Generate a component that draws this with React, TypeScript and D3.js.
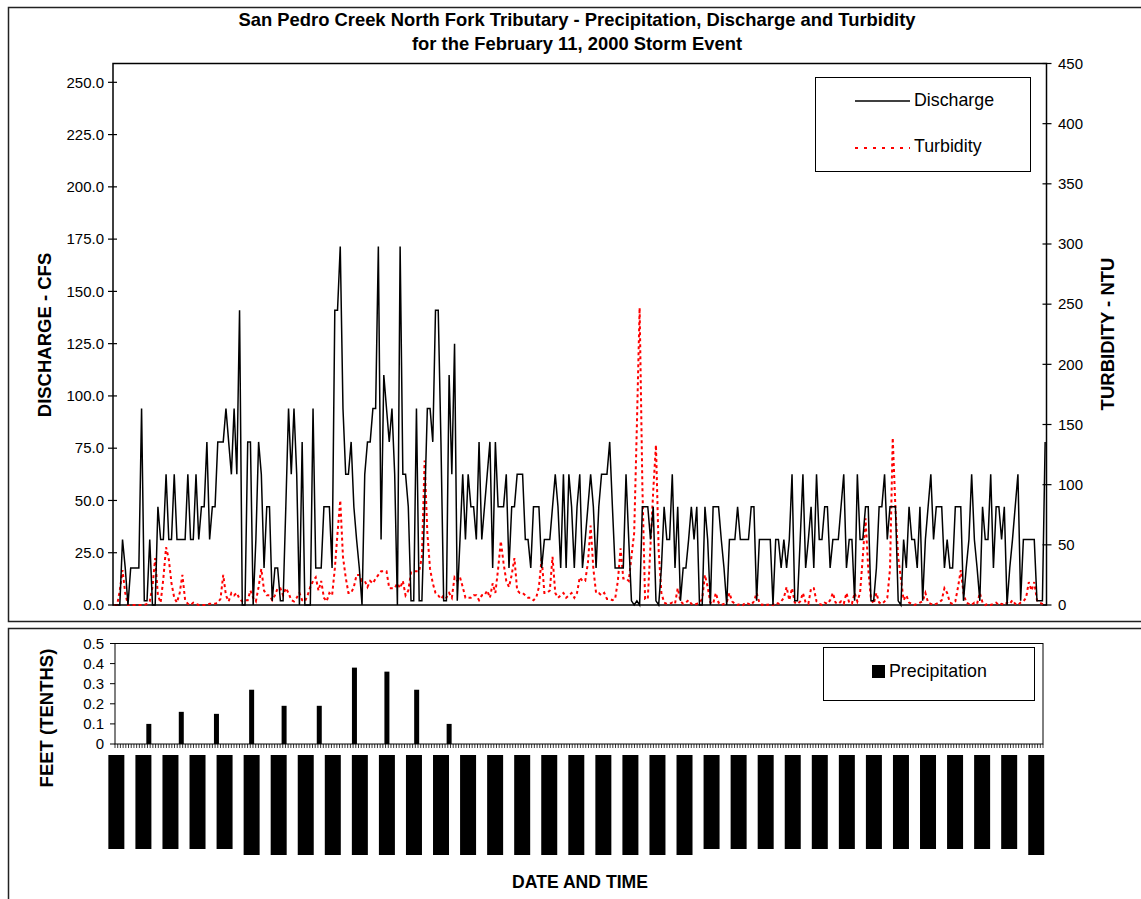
import React from "react";
import * as d3 from "d3";

// ---------------- DATA ----------------
// Discharge rating levels (cfs) used by the gauge readings
const dischargeRating = [0, 2, 17.7, 31.3, 47, 62.5, 78, 94, 110, 125, 141, 156, 171.5];
// Discharge readings as rating-level codes, one per 5-minute sample
const dischargeStage = [
  0,0,0,3,2,0,2,2,2,2,
  7,1,1,3,0,0,4,3,3,5,
  3,3,5,3,3,3,3,5,3,3,
  5,3,4,4,6,3,4,4,6,6,
  6,7,6,5,7,5,10,0,0,6,
  6,0,3,6,5,2,4,4,1,2,
  2,1,1,4,7,5,7,5,0,6,
  0,0,0,7,2,2,2,4,4,4,
  2,10,10,12,7,5,5,6,4,3,
  2,0,5,6,6,7,7,12,3,8,
  7,6,7,5,0,12,5,5,4,1,
  1,7,1,1,4,7,7,6,10,10,
  6,1,1,8,5,9,1,3,5,3,
  5,4,4,3,6,3,4,5,6,2,
  6,4,4,4,5,2,4,4,5,5,
  5,3,3,2,4,4,4,2,3,3,
  3,4,5,4,2,5,2,5,4,2,
  4,5,2,3,4,5,4,2,4,5,
  5,5,6,4,2,2,2,2,5,3,
  1,0,1,0,4,4,4,3,4,1,
  0,2,4,3,3,5,2,4,1,2,
  2,3,4,3,4,0,0,4,3,0,
  4,4,4,3,2,0,3,3,3,4,
  3,3,3,3,4,4,1,3,3,3,
  3,3,0,3,3,2,3,2,3,5,
  1,1,3,5,2,3,4,2,5,3,
  3,4,4,2,3,3,3,4,5,2,
  3,3,1,5,3,3,4,4,1,1,
  2,4,4,5,3,4,4,4,1,0,
  3,2,4,3,3,2,4,1,3,4,
  5,3,4,4,4,2,3,2,2,4,
  4,4,1,2,3,5,3,2,1,4,
  3,3,5,2,4,4,3,4,0,2,
  3,4,5,1,3,3,3,3,3,1,
  1,1,6,
];
// Turbidity (NTU), one per sample
const turbidity = [
  0,0,12,29,10,0,0,0,0,0,
  0,0,1,3,15,39,8,2,22,48,
  38,18,6,2,10,25,4,1,0,2,
  1,0,0,0,0,1,1,1,2,5,
  25,8,3,10,8,10,5,3,4,4,
  12,6,3,15,30,12,8,8,4,8,
  14,14,8,14,10,4,3,6,10,4,
  3,8,15,20,23,12,20,6,3,10,
  8,30,60,87,40,23,10,10,15,25,
  25,20,20,15,20,18,22,25,28,28,
  28,14,14,14,18,14,20,8,12,27,
  28,28,28,40,120,60,30,18,10,8,
  5,8,6,10,6,23,20,23,15,6,
  6,6,8,8,4,8,8,12,6,18,
  10,30,53,35,20,15,25,39,12,10,
  10,8,6,6,4,6,15,39,10,10,
  12,40,10,6,8,10,6,8,10,6,
  10,23,20,20,35,66,30,10,10,8,
  10,5,5,4,5,20,47,22,22,20,
  40,60,150,247,100,5,5,50,95,133,
  45,10,2,1,1,2,1,14,3,1,
  2,4,1,0,1,2,5,25,15,2,
  1,10,2,0,1,2,10,3,1,0,
  1,0,2,1,0,3,10,2,0,1,
  0,1,0,2,1,3,6,15,4,14,
  2,1,3,10,2,1,14,14,3,1,
  0,2,1,4,10,2,1,3,1,10,
  2,1,10,3,10,40,72,30,5,1,
  10,2,1,3,6,30,139,80,40,22,
  4,8,2,1,0,1,2,3,10,2,
  1,0,1,2,4,14,10,2,1,3,
  15,29,10,2,1,0,2,1,10,2,
  0,1,0,1,2,0,1,0,2,1,
  4,1,0,2,3,6,19,12,19,4,
  2,1,0,
];
// Precipitation: sample index where each hourly total falls, and its value
const precipSample = [12, 24, 37, 50, 62, 75, 88, 100, 111, 123];
const precipValue = [0.1, 0.16, 0.15, 0.27, 0.19, 0.19, 0.38, 0.36, 0.27, 0.1];

const dischargeTicks = [0, 25, 50, 75, 100, 125, 150, 175, 200, 225, 250];
const turbidityTicks = [0, 50, 100, 150, 200, 250, 300, 350, 400, 450];
const precipTicks = [0, 0.1, 0.2, 0.3, 0.4, 0.5];

// Category labels (every 10th sample)
const timeLabels = [
  "2/11/00 6:00", "2/11/00 6:50", "2/11/00 7:40", "2/11/00 8:30", "2/11/00 9:20",
  "2/11/00 10:10", "2/11/00 11:00", "2/11/00 11:50", "2/11/00 12:40", "2/11/00 13:30",
  "2/11/00 14:20", "2/11/00 15:10", "2/11/00 16:00", "2/11/00 16:50", "2/11/00 17:40",
  "2/11/00 18:30", "2/11/00 19:20", "2/11/00 20:10", "2/11/00 21:00", "2/11/00 21:50",
  "2/11/00 22:40", "2/11/00 23:30", "2/12/00 0:20", "2/12/00 1:10", "2/12/00 2:00",
  "2/12/00 2:50", "2/12/00 3:40", "2/12/00 4:30", "2/12/00 5:20", "2/12/00 6:10",
  "2/12/00 7:00", "2/12/00 7:50", "2/12/00 8:40", "2/12/00 9:30", "2/12/00 10:20",
];
const labelEvery = 10;

// ---------------- CHART ----------------
const W = 1141;
const H = 899;
const FONT = "Arial, 'Liberation Sans', Helvetica, sans-serif";

export default function App() {
  const discharge = dischargeStage.map((s) => dischargeRating[s]);
  const N = discharge.length;
  const idx = d3.range(N);

  const top = { left: 113, right: 1046.5, top: 63.5, bottom: 605 };
  const bot = { left: 115, right: 1043, top: 643.5, bottom: 744 };

  const xTop = d3.scaleBand<number>().domain(idx).range([top.left, top.right]);
  const xBot = d3.scaleBand<number>().domain(idx).range([bot.left, bot.right]);
  const cTop = (i: number) => (xTop(i) as number) + xTop.bandwidth() / 2;
  const cBot = (i: number) => (xBot(i) as number) + xBot.bandwidth() / 2;

  const yL = d3.scaleLinear().domain([0, 259]).range([top.bottom, top.top]);
  const yR = d3.scaleLinear().domain([0, 450]).range([top.bottom, top.top]);
  const yP = d3.scaleLinear().domain([0, 0.5]).range([bot.bottom, bot.top]);

  const dLine = d3.line<number>().x((_, i) => cTop(i)).y((v) => yL(v))(discharge) || "";
  const tLine = d3.line<number>().x((_, i) => cTop(i)).y((v) => yR(v))(turbidity) || "";

  const f1 = d3.format(".1f");
  const lenScale = d3.scaleLinear().domain([12, 13]).range([94, 100]);

  const boundaries = d3.range(N + 1).map((i) => (i < N ? (xBot(i) as number) : bot.right));

  return (
    <svg width={W} height={H} style={{ position: "absolute", left: 0, top: 0, background: "#fff" }} fontFamily={FONT}>
      <rect x={0} y={0} width={W} height={H} fill="#fff" />
      {/* panel frames */}
      <rect x={8.5} y={7.5} width={1150} height={614} fill="none" stroke="#222" strokeWidth={1.5} />
      <rect x={8.5} y={628.5} width={1150} height={300} fill="none" stroke="#222" strokeWidth={1.5} />

      {/* title */}
      <text x={577} y={26} textAnchor="middle" fontSize={18.4} fontWeight="bold">
        San Pedro Creek North Fork Tributary - Precipitation, Discharge and Turbidity
      </text>
      <text x={577} y={50} textAnchor="middle" fontSize={18.4} fontWeight="bold">
        for the February 11, 2000 Storm Event
      </text>

      {/* top plot area */}
      <rect x={top.left} y={top.top} width={top.right - top.left} height={top.bottom - top.top} fill="none" stroke="#000" strokeWidth={1.5} />

      {/* left axis ticks */}
      {dischargeTicks.map((t) => (
        <g key={"l" + t}>
          <line x1={top.left - 5} x2={top.left + 4} y1={yL(t)} y2={yL(t)} stroke="#000" strokeWidth={1.2} />
          <text x={104} y={yL(t)} dy="0.35em" textAnchor="end" fontSize={15}>
            {f1(t)}
          </text>
        </g>
      ))}
      {/* right axis ticks */}
      {turbidityTicks.map((t) => (
        <g key={"r" + t}>
          <line x1={top.right - 4} x2={top.right + 5} y1={yR(t)} y2={yR(t)} stroke="#000" strokeWidth={1.2} />
          <text x={1058} y={yR(t)} dy="0.35em" textAnchor="start" fontSize={15}>
            {t}
          </text>
        </g>
      ))}

      {/* series */}
      <path d={tLine} fill="none" stroke="#ff0000" strokeWidth={2} strokeDasharray="3 3" />
      <path d={dLine} fill="none" stroke="#000" strokeWidth={1.5} strokeLinejoin="miter" />

      {/* axis titles */}
      <text transform={`translate(45,335) rotate(-90)`} dy="0.35em" textAnchor="middle" fontSize={18.5} fontWeight="bold">
        DISCHARGE - CFS
      </text>
      <text transform={`translate(1108,334) rotate(-90)`} dy="0.35em" textAnchor="middle" fontSize={18.5} fontWeight="bold">
        TURBIDITY - NTU
      </text>

      {/* top legend */}
      <rect x={815.5} y={77.5} width={215} height={94} fill="#fff" stroke="#000" strokeWidth={1} />
      <line x1={855} x2={910} y1={101} y2={101} stroke="#000" strokeWidth={1.5} />
      <text x={914} y={106} fontSize={17.8}>Discharge</text>
      <line x1={855} x2={910} y1={148} y2={148} stroke="#ff0000" strokeWidth={2} strokeDasharray="3 6" />
      <text x={914} y={152} fontSize={17.8}>Turbidity</text>

      {/* bottom plot */}
      <rect x={bot.left} y={bot.top} width={bot.right - bot.left} height={bot.bottom - bot.top} fill="none" stroke="#000" strokeWidth={1} />
      {precipTicks.map((t) => (
        <g key={"p" + t}>
          <line x1={bot.left - 5} x2={bot.left} y1={yP(t)} y2={yP(t)} stroke="#000" strokeWidth={1} />
          <text x={104} y={yP(t)} dy="0.35em" textAnchor="end" fontSize={15}>
            {t === 0 ? "0" : f1(t)}
          </text>
        </g>
      ))}
      {boundaries.map((bx, i) => (
        <line key={"tb" + i} x1={bx} x2={bx} y1={bot.bottom} y2={bot.bottom + 4} stroke="#000" strokeWidth={0.8} />
      ))}
      {precipSample.map((s, k) => (
        <rect key={"pb" + k} x={cBot(s) - 2.5} y={yP(precipValue[k])} width={5} height={yP(0) - yP(precipValue[k])} fill="#000" />
      ))}
      {/* category labels (rendered as solid blocks, as in the original) */}
      {timeLabels.map((lab, k) => (
        <rect key={"lb" + k} x={cBot(k * labelEvery) - 8} y={755} width={16} height={lenScale(lab.length)} fill="#000">
          <title>{lab}</title>
        </rect>
      ))}
      <text transform={`translate(47,718) rotate(-90)`} dy="0.35em" textAnchor="middle" fontSize={18.5} fontWeight="bold">
        FEET (TENTHS)
      </text>
      <text x={580} y={888} textAnchor="middle" fontSize={17.6} fontWeight="bold">
        DATE AND TIME
      </text>

      {/* bottom legend */}
      <rect x={823.5} y={647.5} width={211} height={53} fill="#fff" stroke="#000" strokeWidth={1} />
      <rect x={872} y={665} width={13} height={13} fill="#000" />
      <text x={889} y={677} fontSize={17.8}>Precipitation</text>
    </svg>
  );
}
